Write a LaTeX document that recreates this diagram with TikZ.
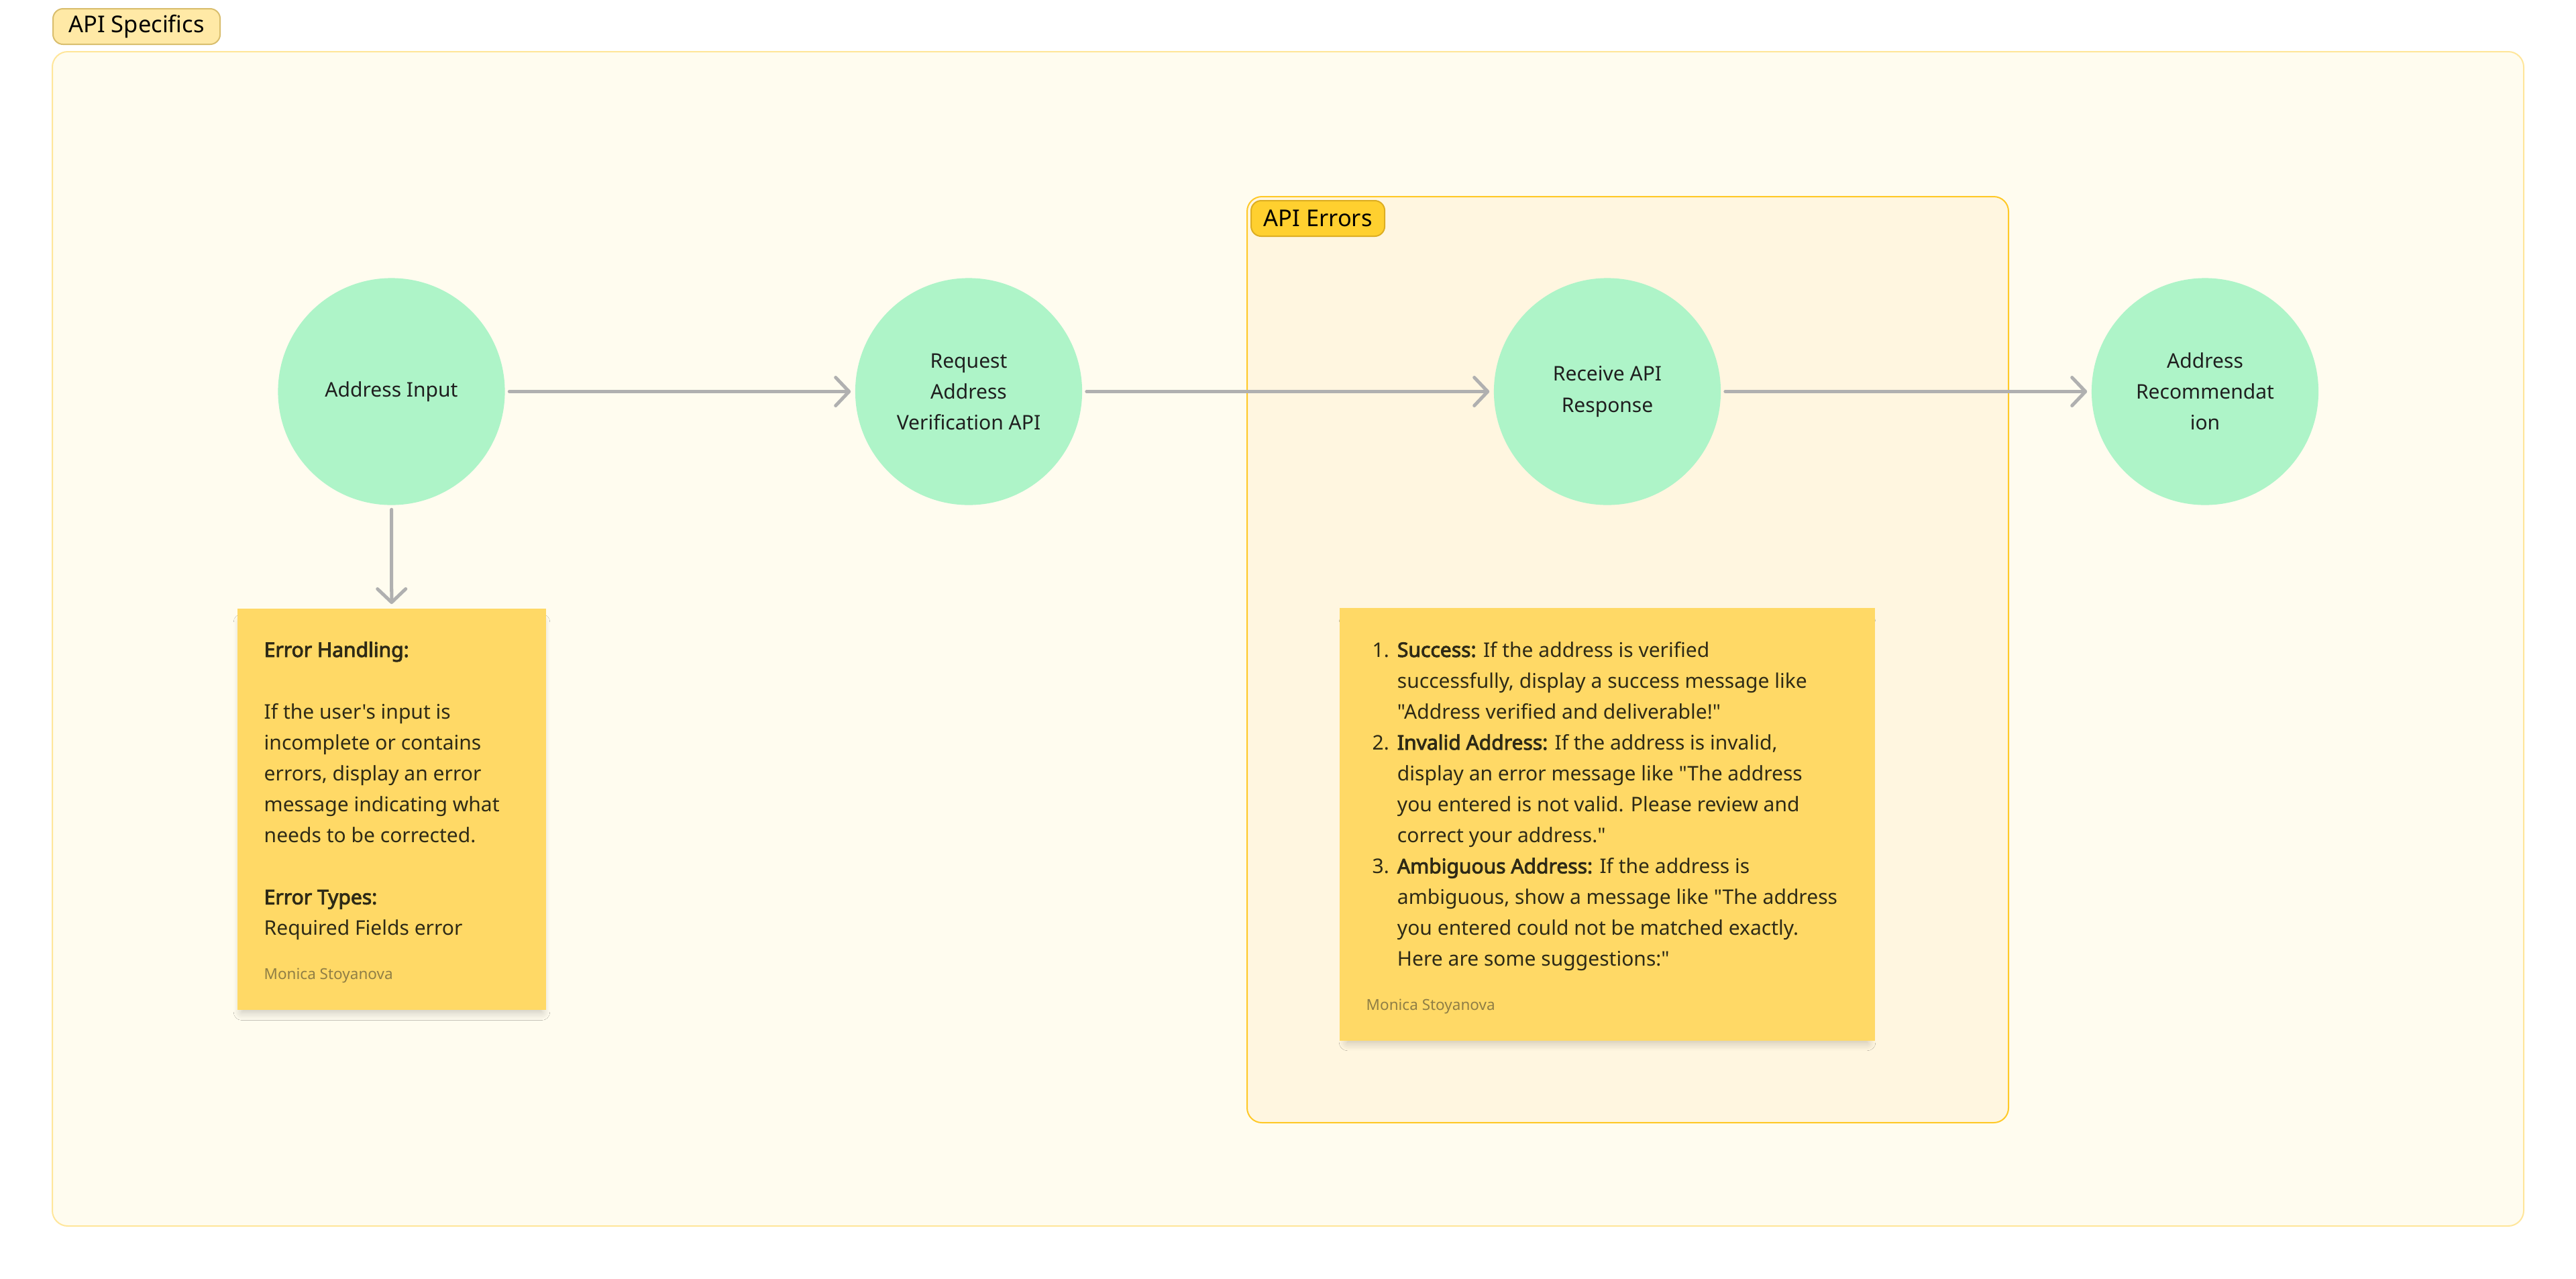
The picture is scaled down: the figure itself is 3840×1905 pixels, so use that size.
\documentclass[tikz,border=0pt]{standalone}
\usepackage{fontspec}
\newfontfamily\boardfont{Noto Sans}[AutoFakeBold=3]
\usepackage{tikz}
\usetikzlibrary{shapes, arrows.meta, positioning, shadows.blur}

\definecolor{framefill}{HTML}{FFFCEF}
\definecolor{frameline}{HTML}{FFE69A}
\definecolor{specfill}{HTML}{FFE9A6}
\definecolor{specline}{HTML}{D9BE6E}
\definecolor{errfill}{HTML}{FFF6E0}
\definecolor{errline}{HTML}{FFC928}
\definecolor{errtagfill}{HTML}{FFD02F}
\definecolor{errtagline}{HTML}{DDAE22}
\definecolor{stepgreen}{HTML}{AEF4C8}
\definecolor{flowgray}{HTML}{B0B0B0}
\definecolor{stickyfill}{HTML}{FFD966}
\definecolor{stickytext}{HTML}{2E2A16}
\definecolor{signgray}{HTML}{8F7E45}

\newcommand{\circlefont}{\boardfont\fontsize{8.54pt}{13.1pt}\selectfont}
\newcommand{\badgefont}{\boardfont\fontsize{9.8pt}{12pt}\selectfont}
\newcommand{\stickyfont}{\boardfont\fontsize{8.54pt}{13.1pt}\selectfont}
\newcommand{\sigfont}{\boardfont\fontsize{6.4pt}{8pt}\selectfont}

\tikzset{
    stepnode/.style={circle, fill=stepgreen, minimum size=3.38cm, inner sep=0pt,
        align=center, text=black!88, font=\circlefont},
    flow/.style={draw=flowgray, line width=0.05cm, line cap=round,
        -{Straight Barb[length=0.2cm, width=0.42cm, line cap=round, line join=round]},
        shorten <=0.06cm, shorten >=0.06cm},
    sticky/.style={rectangle, fill=stickyfill, inner sep=0pt,
        blur shadow={shadow xshift=0cm, shadow yshift=-0.12cm, shadow scale=0.97,
            shadow blur radius=0.13cm, shadow blur steps=10, shadow opacity=24}},
    tagbox/.style={rectangle, rounded corners=0.15cm, line width=0.02cm, inner sep=0pt,
        minimum height=0.53cm, font=\badgefont, text=black, anchor=north west},
    notetext/.style={anchor=base west, inner sep=0pt, text=stickytext, font=\stickyfont},
    signtext/.style={anchor=base west, inner sep=0pt, text=signgray, font=\sigfont}
}

\begin{document}
\begin{tikzpicture}[x=0.01cm, y=-0.01cm]
        % Canvas
        \useasboundingbox[fill=white] (0,0) rectangle (3840,1905);

        % Outer frame
        \draw[fill=framefill, draw=frameline, line width=0.02cm, rounded corners=0.23cm] (78,77) rectangle (3762,1827);
        \node[tagbox, fill=specfill, draw=specline, minimum width=2.49cm] (spectag) at (78,12) {API Specifics};

        % Error frame
        \draw[fill=errfill, draw=errline, line width=0.02cm, rounded corners=0.22cm] (1859,293) rectangle (2994,1673);
        \node[tagbox, fill=errtagfill, draw=errtagline, minimum width=1.99cm] (errtag) at (1864,298) {API Errors};

        % Steps
        \node[stepnode] (input) at (583.5,583.5) {Address Input};
        \node[stepnode] (request) at (1444,583.5) {Request\\Address\\Verification API};
        \node[stepnode] (response) at (2396,583.5) {Receive API\\Response};
        \node[stepnode] (recommend) at (3287,583.5) {Address\\Recommendat\\ion};

        % Arrows
        \draw[flow] (input) -- (request);
        \draw[flow] (request) -- (response);
        \draw[flow] (response) -- (recommend);

        % Error handling note
        \node[sticky, minimum width=4.6cm, minimum height=5.98cm] (handling) at (584,1206) {};
        \node[notetext] (handlingtext) at (393,979) {\begin{tabular}[t]{@{}l@{}}
            \textbf{Error Handling:}\\
            \\
            If the user's input is\\
            incomplete or contains\\
            errors, display an error\\
            message indicating what\\
            needs to be corrected.\\
            \\
            \textbf{Error Types:}\\
            Required Fields error
        \end{tabular}};
        \node[signtext] (handlingsign) at (393,1459) {Monica Stoyanova};
        \draw[flow] (input) -- (handling);

        % API errors note
        \node[sticky, minimum width=7.98cm, minimum height=6.45cm] (errors) at (2396,1228.5) {};
        \node[notetext] (errorstext) at (2045,979) {\begin{tabular}[t]{@{}r@{\hspace{0.12cm}}l@{}}
            1. & \textbf{Success:} If the address is verified\\
               & successfully, display a success message like\\
               & "Address verified and deliverable!"\\
            2. & \textbf{Invalid Address:} If the address is invalid,\\
               & display an error message like "The address\\
               & you entered is not valid. Please review and\\
               & correct your address."\\
            3. & \textbf{Ambiguous Address:} If the address is\\
               & ambiguous, show a message like "The address\\
               & you entered could not be matched exactly.\\
               & Here are some suggestions:"
        \end{tabular}};
        \node[signtext] (errorssign) at (2036,1505) {Monica Stoyanova};
\end{tikzpicture}
\end{document}
